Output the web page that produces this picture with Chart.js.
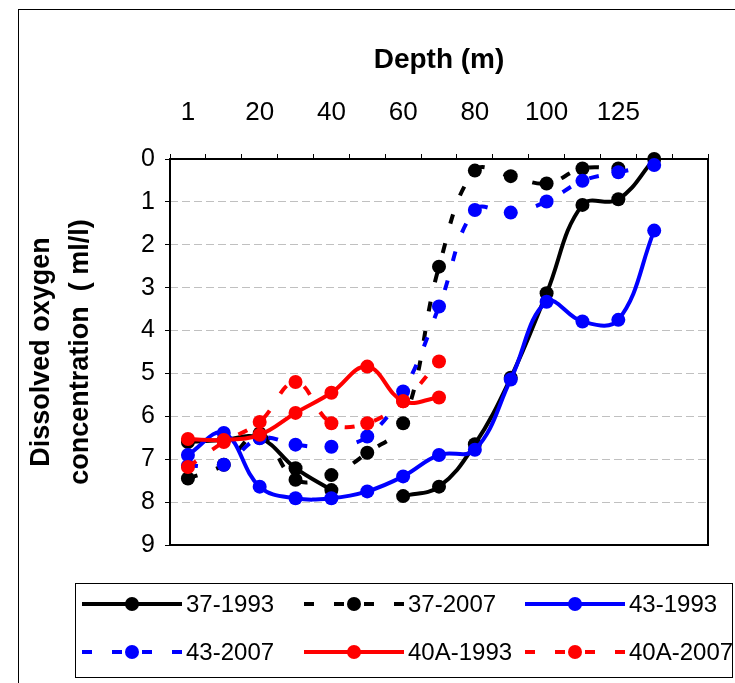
<!DOCTYPE html>
<html lang="en">
<head>
<meta charset="UTF-8">
<title>Dissolved oxygen by depth</title>
<script src="https://cdn.jsdelivr.net/npm/chart.js"></script>
<style>
    body { margin: 0; background: #fff; }
    #wrap { width: 735px; height: 683px; }
</style>
</head>
<body>
<div id="wrap"><canvas id="oxyChart" width="735" height="683"></canvas></div>
<script>
// depth categories, only every other one carries a label
const depthLabels = ['1', '', '20', '', '40', '', '60', '', '80', '', '100', '', '125', '', ''];

// dissolved oxygen (ml/l) per station and year
const st37_1993  = [6.6, 6.55, 6.5, 7.21, 7.72, null, 7.86, 7.64, 6.65, 5.1, 3.13, 1.07, 0.94, 0, null];
const st37_2007  = [7.45, 7.13, 6.4, 7.48, 7.37, 6.85, 6.16, 2.51, 0.27, 0.4, 0.57, 0.22, 0.22, null, null];
const st43_1993  = [6.9, 6.39, 7.64, 7.91, 7.91, 7.75, 7.4, 6.9, 6.78, 5.14, 3.33, 3.79, 3.75, 1.67, null];
const st43_2007  = [7.15, 7.13, 6.51, 6.66, 6.71, 6.47, 5.42, 3.44, 1.19, 1.25, 0.99, 0.51, 0.31, 0.14, null];
const st40A_1993 = [6.53, 6.55, 6.43, 5.92, 5.45, 4.84, 5.65, 5.56, null, null, null, null, null, null, null];
const st40A_2007 = [7.18, 6.6, 6.13, 5.2, 6.16, 6.16, 5.65, 4.72, null, null, null, null, null, null, null];

const FONT = 'Arial, "Liberation Sans", sans-serif';
const DASH = [10, 20];

function series(label, data, color, dashed, order) {
    return {
        label: label,
        data: data,
        borderColor: color,
        backgroundColor: color,
        borderWidth: 4,
        borderDash: dashed ? DASH : [],
        pointRadius: 7,
        pointBorderWidth: 0,
        pointBackgroundColor: color,
        tension: 0.4,
        spanGaps: false,
        clip: false,
        order: order
    };
}

// plot frame, outer frame and the boxed legend
const framePlugin = {
    id: 'frames',
    beforeDatasetsDraw(chart) {
        const a = chart.chartArea;
        const ctx = chart.ctx;
        ctx.save();
        ctx.strokeStyle = '#000';
        ctx.lineWidth = 2;
        ctx.strokeRect(a.left, a.top, a.right - a.left, a.bottom - a.top);
        ctx.restore();
    },
    afterDraw(chart) {
        const ctx = chart.ctx;
        ctx.save();
        ctx.strokeStyle = '#000';
        ctx.lineWidth = 1;
        ctx.strokeRect(18.5, 9.5, 800, 800);
        ctx.strokeRect(75.5, 583.5, 657, 94);

        const colX = [82, 304, 525];
        const rowY = [604, 652];
        chart.data.datasets.forEach((ds, i) => {
            const x0 = colX[i % 3];
            const y = rowY[Math.floor(i / 3)];
            ctx.strokeStyle = ds.borderColor;
            ctx.lineWidth = ds.borderWidth;
            ctx.setLineDash(ds.borderDash);
            ctx.beginPath();
            ctx.moveTo(x0, y);
            ctx.lineTo(x0 + 100, y);
            ctx.stroke();
            ctx.setLineDash([]);
            ctx.fillStyle = ds.borderColor;
            ctx.beginPath();
            ctx.arc(x0 + 50, y, 7, 0, Math.PI * 2);
            ctx.fill();
            ctx.fillStyle = '#000';
            ctx.font = '24px ' + FONT;
            ctx.textBaseline = 'middle';
            ctx.textAlign = 'left';
            ctx.fillText(ds.label, x0 + 104, y + 1);
        });
        ctx.restore();
    }
};

new Chart(document.getElementById('oxyChart'), {
    type: 'line',
    data: {
        labels: depthLabels,
        datasets: [
            series('37-1993', st37_1993, '#000000', false, 6),
            series('37-2007', st37_2007, '#000000', true, 5),
            series('43-1993', st43_1993, '#0000ff', false, 4),
            series('43-2007', st43_2007, '#0000ff', true, 3),
            series('40A-1993', st40A_1993, '#ff0000', false, 2),
            series('40A-2007', st40A_2007, '#ff0000', true, 1)
        ]
    },
    options: {
        responsive: false,
        animation: false,
        layout: { padding: { left: 0, top: 0, right: 27, bottom: 138 } },
        plugins: {
            legend: { display: false },
            tooltip: { enabled: false }
        },
        scales: {
            x: {
                position: 'top',
                offset: true,
                afterFit: s => { s.height = 159; },
                title: {
                    display: true,
                    text: 'Depth (m)',
                    color: '#000',
                    font: { family: FONT, size: 28, weight: 'bold' },
                    padding: { top: 43, bottom: 0 }
                },
                grid: {
                    offset: true,
                    drawOnChartArea: false,
                    drawTicks: true,
                    tickLength: 5,
                    tickColor: '#000'
                },
                border: { display: false },
                ticks: {
                    autoSkip: false,
                    maxRotation: 0,
                    padding: 26,
                    color: '#000',
                    font: { family: FONT, size: 26 },
                    callback: (v, i) => depthLabels[i]
                }
            },
            y: {
                reverse: true,
                min: 0,
                max: 9,
                afterFit: s => { s.width = 170; },
                title: {
                    display: true,
                    text: ['Dissolved oxygen', 'concentration  ( ml/l)'],
                    color: '#000',
                    font: { family: FONT, size: 27, weight: 'bold', lineHeight: 1.45 },
                    padding: { top: 22, bottom: 0 }
                },
                grid: {
                    color: '#c0c0c0',
                    lineWidth: 1,
                    tickLength: 5,
                    tickColor: '#000',
                    tickBorderDash: []
                },
                border: { display: false, dash: [8, 4] },
                ticks: {
                    stepSize: 1,
                    padding: 10,
                    color: '#000',
                    font: { family: FONT, size: 25 }
                }
            }
        }
    },
    plugins: [framePlugin]
});
</script>
</body>
</html>
